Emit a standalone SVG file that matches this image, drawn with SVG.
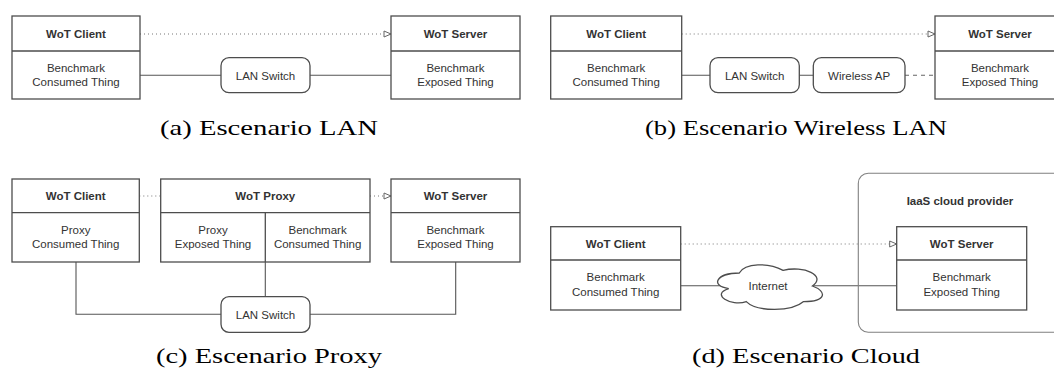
<svg xmlns="http://www.w3.org/2000/svg" width="1054" height="370" viewBox="0 0 1054 370">
<style>
.box{fill:#fff;stroke:#4d4d4d;stroke-width:1.3}
.sw{fill:#fff;stroke:#4d4d4d;stroke-width:1.3}
.cont{fill:none;stroke:#808080;stroke-width:1.1}
.ln{fill:none;stroke:#555;stroke-width:1.1}
.dot{fill:none;stroke:#777;stroke-width:1;stroke-dasharray:1 3}
.dash{fill:none;stroke:#666;stroke-width:1.1;stroke-dasharray:4 4}
.h{font-family:"Liberation Sans",Arial,sans-serif;font-size:11.5px;font-weight:bold;fill:#333;text-anchor:middle}
.t{font-family:"Liberation Sans",Arial,sans-serif;font-size:11.5px;fill:#333;text-anchor:middle}
.cap{font-family:"Liberation Serif","Times New Roman",serif;font-size:21px;fill:#000}
</style>
<defs>
<marker id="arr" markerWidth="10" markerHeight="10" refX="8" refY="4" orient="auto" markerUnits="userSpaceOnUse">
<path d="M1,1 L8,4 L1,7 Z" fill="#fff" stroke="#666" stroke-width="1"/>
</marker>
</defs>

<g id="connectors">
<!-- a -->
<line class="dot" x1="140" y1="34" x2="391" y2="34" marker-end="url(#arr)"/>
<line class="ln" x1="140" y1="75.3" x2="391" y2="75.3"/>
<!-- b -->
<line class="dot" x1="681.7" y1="34" x2="935" y2="34" marker-end="url(#arr)"/>
<line class="ln" x1="681.7" y1="75.3" x2="813" y2="75.3"/>
<line class="dash" x1="905" y1="75.3" x2="935" y2="75.3"/>
<!-- c -->
<line class="dot" x1="139.3" y1="196" x2="160.7" y2="196"/>
<line class="dot" x1="370" y1="196" x2="391" y2="196" marker-end="url(#arr)"/>
<polyline class="ln" points="76,262 76,314.3 221,314.3"/>
<line class="ln" x1="265.3" y1="262" x2="265.3" y2="296.7"/>
<polyline class="ln" points="310,314.3 455.7,314.3 455.7,262"/>
<!-- d -->
<line class="dot" x1="680.7" y1="244" x2="896.7" y2="244" marker-end="url(#arr)"/>
<line class="ln" x1="680.7" y1="285.7" x2="896.7" y2="285.7"/>
</g>

<!-- (a) -->
<g id="a-client">
<rect class="box" x="12" y="16" width="128" height="83"/>
<line class="box" x1="12" y1="51" x2="140" y2="51"/>
<text class="h" x="76" y="37.5">WoT Client</text>
<text class="t" x="76" y="71.5">Benchmark</text>
<text class="t" x="76" y="86">Consumed Thing</text>
</g>
<g id="a-switch">
<rect class="sw" x="221" y="57.7" width="89" height="35" rx="8"/>
<text class="t" x="265.5" y="79.5">LAN Switch</text>
</g>
<g id="a-server">
<rect class="box" x="391" y="16" width="129" height="83"/>
<line class="box" x1="391" y1="51" x2="520" y2="51"/>
<text class="h" x="455.5" y="37.5">WoT Server</text>
<text class="t" x="455.5" y="71.5">Benchmark</text>
<text class="t" x="455.5" y="86">Exposed Thing</text>
</g>
<text class="cap" x="160" y="134.5" textLength="218" lengthAdjust="spacingAndGlyphs">(a) Escenario LAN</text>

<!-- (b) -->
<g id="b-client">
<rect class="box" x="550.7" y="16" width="131" height="83"/>
<line class="box" x1="550.7" y1="51" x2="681.7" y2="51"/>
<text class="h" x="616.2" y="37.5">WoT Client</text>
<text class="t" x="616.2" y="71.5">Benchmark</text>
<text class="t" x="616.2" y="86">Consumed Thing</text>
</g>
<g id="b-switch">
<rect class="sw" x="710" y="57.7" width="89.3" height="35" rx="8"/>
<text class="t" x="754.6" y="79.5">LAN Switch</text>
</g>
<g id="b-ap">
<rect class="sw" x="813.3" y="57.7" width="91.7" height="35" rx="8"/>
<text class="t" x="859.1" y="79.5">Wireless AP</text>
</g>
<g id="b-server">
<rect class="box" x="935" y="16" width="130" height="83"/>
<line class="box" x1="935" y1="51" x2="1065" y2="51"/>
<text class="h" x="1000" y="37.5">WoT Server</text>
<text class="t" x="1000" y="71.5">Benchmark</text>
<text class="t" x="1000" y="86">Exposed Thing</text>
</g>
<text class="cap" x="645" y="134.5" textLength="302" lengthAdjust="spacingAndGlyphs">(b) Escenario Wireless LAN</text>

<!-- (c) -->
<g id="c-client">
<rect class="box" x="12" y="179" width="127.3" height="83"/>
<line class="box" x1="12" y1="212.7" x2="139.3" y2="212.7"/>
<text class="h" x="75.7" y="200">WoT Client</text>
<text class="t" x="75.7" y="233.5">Proxy</text>
<text class="t" x="75.7" y="248">Consumed Thing</text>
</g>
<g id="c-proxy">
<rect class="box" x="160.7" y="179" width="209.3" height="83"/>
<line class="box" x1="160.7" y1="212.7" x2="370" y2="212.7"/>
<line class="box" x1="265.3" y1="212.7" x2="265.3" y2="262"/>
<text class="h" x="265.3" y="200">WoT Proxy</text>
<text class="t" x="213" y="233.5">Proxy</text>
<text class="t" x="213" y="248">Exposed Thing</text>
<text class="t" x="317.6" y="233.5">Benchmark</text>
<text class="t" x="317.6" y="248">Consumed Thing</text>
</g>
<g id="c-server">
<rect class="box" x="391" y="179" width="129" height="83"/>
<line class="box" x1="391" y1="212.7" x2="520" y2="212.7"/>
<text class="h" x="455.5" y="200">WoT Server</text>
<text class="t" x="455.5" y="233.5">Benchmark</text>
<text class="t" x="455.5" y="248">Exposed Thing</text>
</g>
<g id="c-switch">
<rect class="sw" x="221" y="296.7" width="89" height="35.6" rx="8"/>
<text class="t" x="265.5" y="318.5">LAN Switch</text>
</g>
<text class="cap" x="156" y="363" textLength="226" lengthAdjust="spacingAndGlyphs">(c) Escenario Proxy</text>

<!-- (d) -->
<g id="d-cloudprovider">
<rect class="cont" x="858.3" y="173.3" width="220" height="159" rx="10"/>
<text class="h" x="960" y="205">IaaS cloud provider</text>
</g>
<g id="d-client">
<rect class="box" x="550.7" y="226.7" width="130" height="83.3"/>
<line class="box" x1="550.7" y1="260" x2="680.7" y2="260"/>
<text class="h" x="615.7" y="247.5">WoT Client</text>
<text class="t" x="615.7" y="281">Benchmark</text>
<text class="t" x="615.7" y="295.5">Consumed Thing</text>
</g>
<g id="d-internet">
<path class="sw" d="M739.25,273 C715.85,273 710,286 728.72,288.6 C710,294.32 731.06,306.8 746.27,301.6 C756.8,312 791.9,312 803.6,301.6 C827,301.6 827,291.2 812.4,286 C827,275.6 803.6,265.2 783.1,270.4 C768.5,262.6 745.1,262.6 739.25,273 Z"/>
<text class="t" x="768" y="290">Internet</text>
</g>
<g id="d-server">
<rect class="box" x="896.7" y="226.7" width="130" height="83.3"/>
<line class="box" x1="896.7" y1="260" x2="1026.7" y2="260"/>
<text class="h" x="961.7" y="247.5">WoT Server</text>
<text class="t" x="961.7" y="281">Benchmark</text>
<text class="t" x="961.7" y="295.5">Exposed Thing</text>
</g>
<text class="cap" x="692" y="363" textLength="228" lengthAdjust="spacingAndGlyphs">(d) Escenario Cloud</text>
</svg>
